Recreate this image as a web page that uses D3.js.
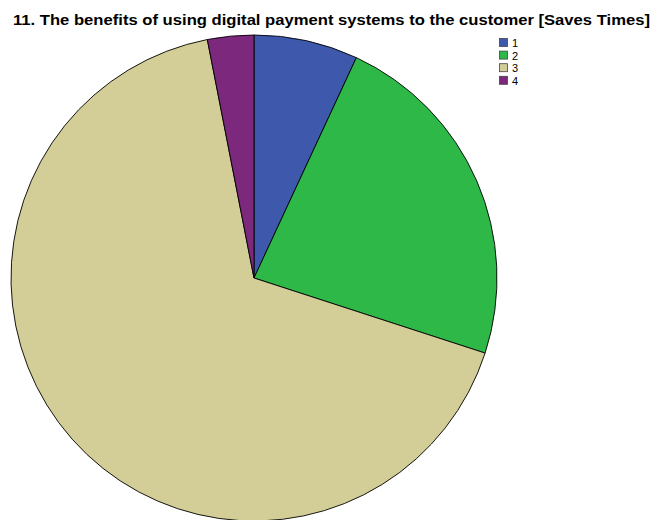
<!DOCTYPE html>
<html>
<head>
<meta charset="utf-8">
<script src="https://cdn.jsdelivr.net/npm/d3@7"></script>
<style>
  html, body { margin: 0; padding: 0; background: #fff; overflow: hidden; }
  svg { display: block; }
</style>
</head>
<body>
<svg id="chart" width="656" height="520"></svg>
<script>
// Response categories and their counts
const categories = ["1", "2", "3", "4"];
const counts = [9, 30, 87, 4];
const colors = ["#3E58AC", "#2EB848", "#D3CE97", "#7C287D"];
const title = "11. The benefits of using digital payment systems to the customer [Saves Times]";

const svg = d3.select("#chart");
const W = 656, H = 520;

svg.append("rect").attr("width", W).attr("height", H).attr("fill", "#fff");

svg.append("text")
  .attr("x", 13)
  .attr("y", 25)
  .attr("font-family", "Liberation Sans, Arial, sans-serif")
  .attr("font-weight", "bold")
  .attr("font-size", 15.5)
  .attr("textLength", 637)
  .attr("lengthAdjust", "spacingAndGlyphs")
  .attr("fill", "#000")
  .text(title);

const data = categories.map((c, i) => ({ cat: c, value: counts[i] }));
const color = d3.scaleOrdinal().domain(categories).range(colors);

const pie = d3.pie().value(d => d.value).sort(null);
const radius = 243;
const arc = d3.arc().innerRadius(0).outerRadius(radius);

const g = svg.append("g").attr("transform", "translate(254,278)");
g.selectAll("path")
  .data(pie(data))
  .join("path")
  .attr("d", arc)
  .attr("fill", d => color(d.data.cat))
  .attr("stroke", "#000")
  .attr("stroke-width", 0.9)
  .attr("stroke-linejoin", "round");

// Legend
const legend = svg.append("g").attr("transform", "translate(499,38)");
const item = legend.selectAll("g")
  .data(categories)
  .join("g")
  .attr("transform", (d, i) => `translate(0,${i * 12.6})`);
item.append("rect")
  .attr("x", 0.5).attr("y", 0.5)
  .attr("width", 8).attr("height", 8)
  .attr("fill", d => color(d))
  .attr("stroke", "#444")
  .attr("stroke-width", 0.8);
item.append("text")
  .attr("x", 13)
  .attr("y", 9)
  .attr("font-family", "Liberation Sans, Arial, sans-serif")
  .attr("font-size", 11)
  .attr("fill", "#000")
  .text(d => d);
</script>
</body>
</html>
